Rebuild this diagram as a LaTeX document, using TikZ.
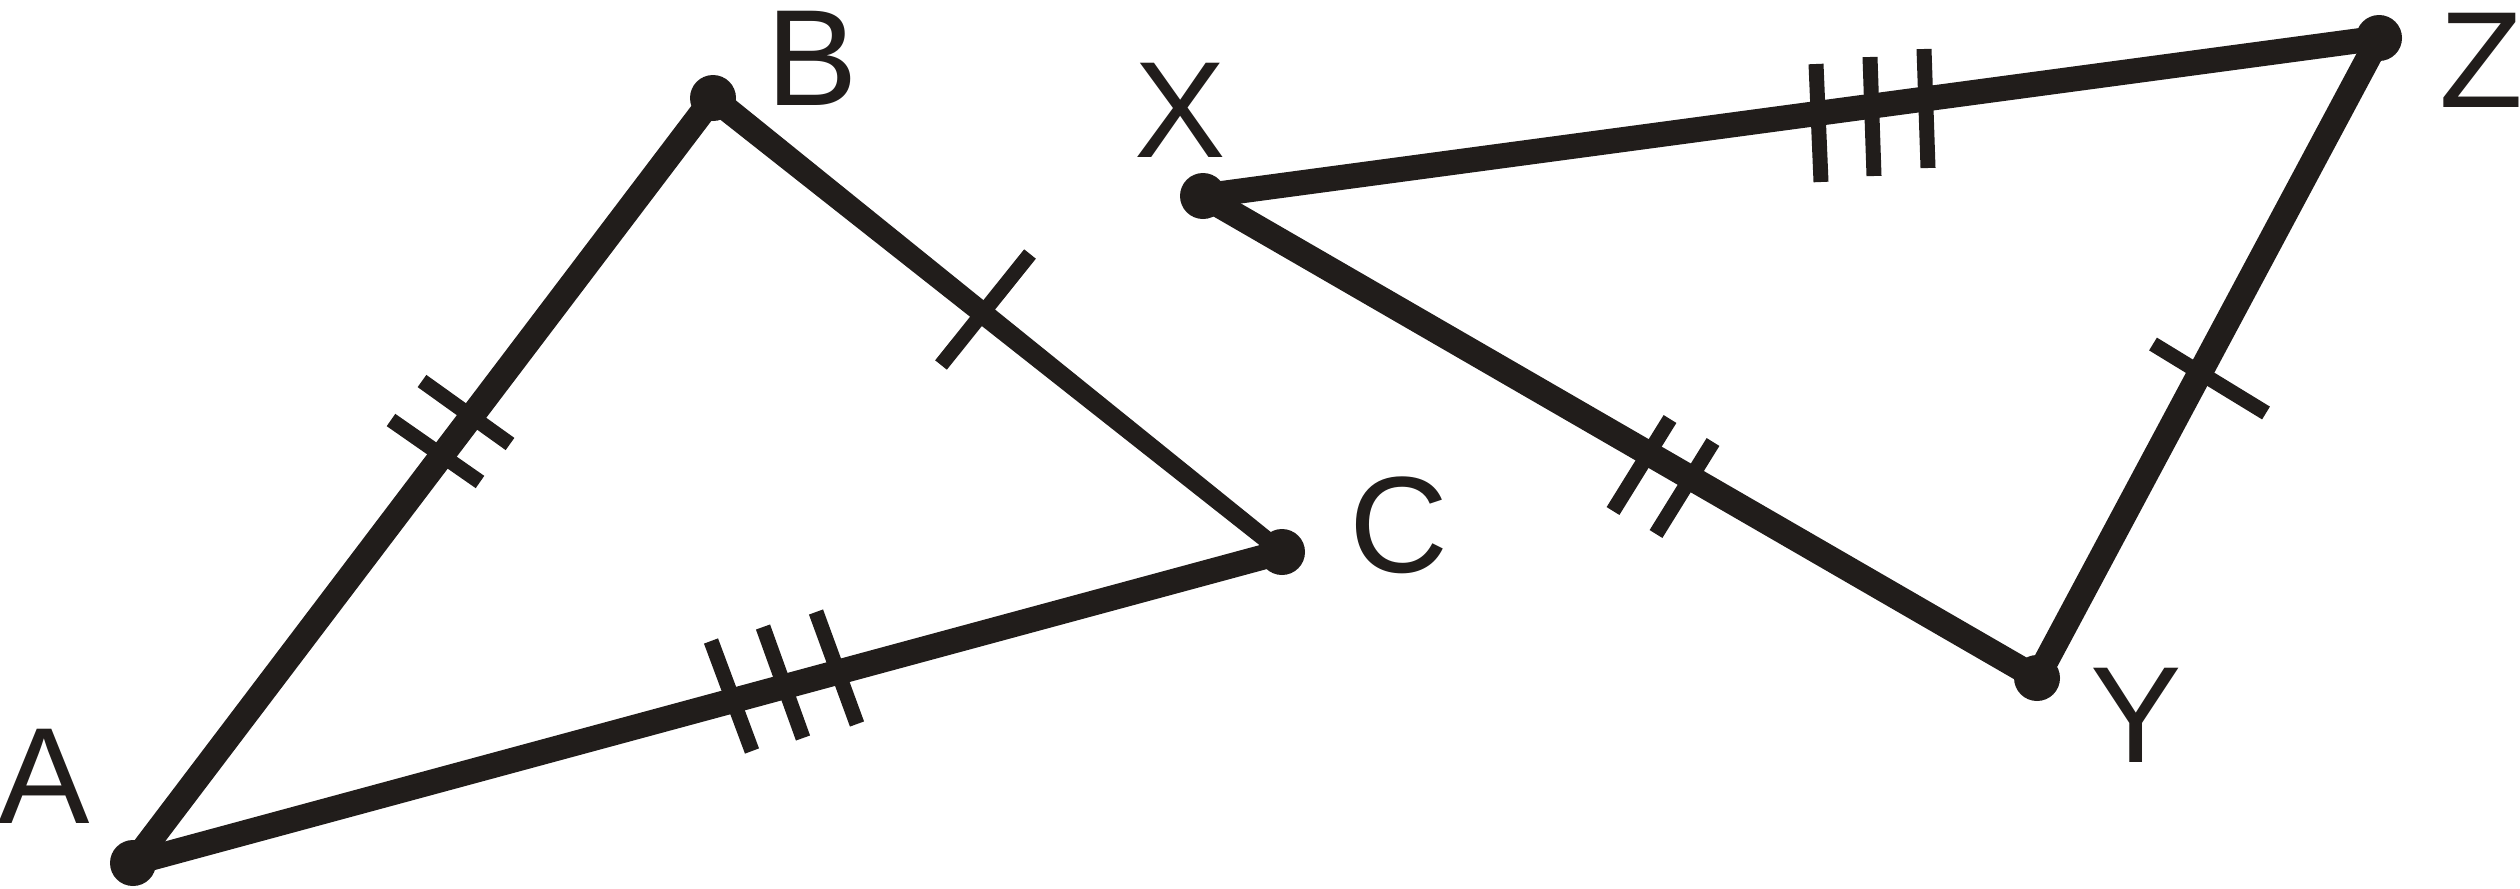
\documentclass[tikz,border=0pt]{standalone}
\usepackage{fontspec}
\setmainfont{Liberation Sans}
\usepackage{tikz}
\usetikzlibrary{calc}
\definecolor{ink}{RGB}{33,29,27}
\tikzstyle{none}=[inner sep=0pt]
\tikzstyle{dot}=[circle,fill=ink,inner sep=0pt,minimum size=0.46cm]
\tikzstyle{letter}=[inner sep=0pt,text=ink,font=\fontsize{39}{47}\selectfont]
\tikzstyle{side}=[-,draw=ink,line width=0.25cm]
\tikzstyle{taper}=[fill=ink]
\tikzstyle{tick}=[-,draw=ink,line width=0.15cm]

\begin{document}
\begin{tikzpicture}
  \useasboundingbox (0, 0) rectangle (25.2, 8.88);
  \node [style=dot] (0) at (1.33, 0.25) {};
  \node [style=dot] (1) at (7.13, 7.9) {};
  \node [style=dot] (2) at (12.82, 3.36) {};
  \node [style=dot] (3) at (12.03, 6.92) {};
  \node [style=dot] (4) at (20.37, 2.1) {};
  \node [style=dot] (5) at (23.79, 8.5) {};
  \node [style=letter] (6) at (0.44, 1.12) {A};
  \node [style=letter] (7) at (8.12, 8.3) {B};
  \node [style=letter] (8) at (13.99, 3.63) {C};
  \node [style=letter] (9) at (11.8, 7.78) {X};
  \node [style=letter] (10) at (21.36, 1.73) {Y};
  \node [style=letter] (11) at (24.81, 8.28) {Z};
  \node [style=none] (12) at (4.22, 5.07) {};
  \node [style=none] (13) at (5.1, 4.44) {};
  \node [style=none] (14) at (3.91, 4.68) {};
  \node [style=none] (15) at (4.8, 4.06) {};
  \node [style=none] (16) at (10.3, 6.34) {};
  \node [style=none] (17) at (9.41, 5.23) {};
  \node [style=none] (18) at (7.11, 2.47) {};
  \node [style=none] (19) at (7.52, 1.37) {};
  \node [style=none] (20) at (7.63, 2.61) {};
  \node [style=none] (21) at (8.03, 1.5) {};
  \node [style=none] (22) at (8.16, 2.76) {};
  \node [style=none] (23) at (8.57, 1.64) {};
  \node [style=none] (24) at (18.16, 8.24) {};
  \node [style=none] (25) at (18.21, 7.06) {};
  \node [style=none] (26) at (18.7, 8.31) {};
  \node [style=none] (27) at (18.74, 7.12) {};
  \node [style=none] (28) at (19.24, 8.39) {};
  \node [style=none] (29) at (19.28, 7.2) {};
  \node [style=none] (30) at (16.7, 4.69) {};
  \node [style=none] (31) at (16.13, 3.77) {};
  \node [style=none] (32) at (17.13, 4.46) {};
  \node [style=none] (33) at (16.56, 3.54) {};
  \node [style=none] (34) at (21.53, 5.44) {};
  \node [style=none] (35) at (22.66, 4.75) {};
  \draw [style=side] (0.center) to (1.center);
  \fill [style=taper] ($(1)!0.125cm!90:(2)$) -- ($(2)!0.085cm!-90:(1)$)
    -- ($(2)!0.085cm!90:(1)$) -- ($(1)!0.125cm!-90:(2)$) -- cycle;
  \draw [style=side] (0.center) to (2.center);
  \draw [style=side] (3.center) to (5.center);
  \draw [style=side] (3.center) to (4.center);
  \draw [style=side] (4.center) to (5.center);
  \draw [style=tick] (12.center) to (13.center);
  \draw [style=tick] (14.center) to (15.center);
  \draw [style=tick] (16.center) to (17.center);
  \draw [style=tick] (18.center) to (19.center);
  \draw [style=tick] (20.center) to (21.center);
  \draw [style=tick] (22.center) to (23.center);
  \draw [style=tick] (24.center) to (25.center);
  \draw [style=tick] (26.center) to (27.center);
  \draw [style=tick] (28.center) to (29.center);
  \draw [style=tick] (30.center) to (31.center);
  \draw [style=tick] (32.center) to (33.center);
  \draw [style=tick] (34.center) to (35.center);
\end{tikzpicture}
\end{document}
